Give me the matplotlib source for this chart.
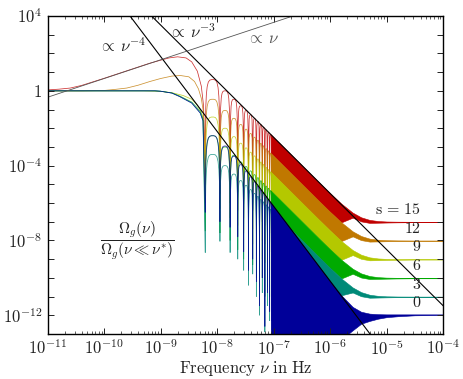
import numpy as np
import matplotlib
matplotlib.use("Agg")
import matplotlib.pyplot as plt
from matplotlib.path import Path
from matplotlib.patches import PathPatch
from matplotlib.ticker import FixedLocator, FuncFormatter, NullFormatter

plt.rcParams['mathtext.fontset'] = 'cm'
plt.rcParams['font.family'] = 'serif'
plt.rcParams['font.serif'] = ['DejaVu Serif']

# ---------------- data (log10 values) ----------------
labels = ['15', '12', '9', '6', '3', '0']
colors = ['#c00000', '#c07800', '#b4c800', '#00aa00', '#008a78', '#000099']

# smooth low-frequency part (log nu, log Omega) up to the first dip
low_x_15 = [-11.0, -10.8, -10.6, -10.4, -10.0, -9.6, -9.2, -9.0, -8.85, -8.7, -8.55, -8.45, -8.35, -8.28, -8.24]
low_y_15 = [0.05, 0.09, 0.15, 0.29, 0.67, 1.07, 1.47, 1.64, 1.76, 1.82, 1.76, 1.55, 1.05, 0.25, -0.8]
low_x_12 = [-11.0, -10.4, -10.0, -9.8, -9.6, -9.4, -9.19, -9.0, -8.8, -8.65, -8.5, -8.4, -8.33, -8.28, -8.24]
low_y_12 = [0.0, 0.0, 0.02, 0.08, 0.15, 0.3, 0.5, 0.66, 0.79, 0.82, 0.75, 0.5, 0.1, -0.4, -1.2]
low_x_9 = [-11.0, -9.3, -9.0, -8.8, -8.6, -8.45, -8.35, -8.28, -8.24]
low_y_9 = [0.0, 0.0, -0.03, -0.1, -0.25, -0.45, -0.75, -1.1, -1.6]
low_x_6 = [-11.0, -9.1, -9.0, -8.8, -8.66, -8.45, -8.3, -8.25]
low_y_6 = [0.0, 0.0, -0.02, -0.11, -0.28, -0.6, -1.08, -1.5]
low_x_3 = [-11.0, -9.1, -9.0, -8.8, -8.66, -8.45, -8.3, -8.25]
low_y_3 = [0.0, 0.0, -0.02, -0.12, -0.31, -0.65, -1.18, -1.6]
low_x_0 = [-11.0, -9.1, -9.0, -8.8, -8.66, -8.45, -8.3, -8.25]
low_y_0 = [0.0, 0.0, -0.02, -0.12, -0.31, -0.65, -1.18, -1.6]

# positions of the resolved dips (log nu), shared by all curves
dips = [-8.21, -7.95, -7.77, -7.635, -7.53, -7.445, -7.37, -7.305, -7.25, -7.20, -7.155, -7.11, -7.07, -7.035]

# depth reached by each dip (log Omega)
depth_15 = [-4.0, -4.5, -5.0, -5.4, -5.8, -6.1, -6.4, -6.6, -6.8, -7.0, -7.2, -7.4, -7.6, -7.8]
depth_12 = [-5.0, -5.5, -6.0, -6.4, -6.8, -7.1, -7.4, -7.6, -7.8, -8.0, -8.2, -8.4, -8.6, -8.8]
depth_9 = [-6.0, -6.3, -6.8, -7.2, -7.6, -8.0, -8.2, -8.5, -8.8, -9.0, -9.2, -9.4, -9.6, -9.8]
depth_6 = [-7.5, -7.6, -8.0, -8.5, -9.0, -9.5, -9.3, -10.0, -10.5, -10.0, -11.0, -10.5, -11.0, -11.5]
depth_3 = [-8.65, -8.05, -8.65, -9.0, -9.6, -10.4, -9.8, -11.0, -12.0, -10.8, -12.9, -11.5, -12.3, -12.8]
depth_0 = [-6.5, -7.0, -7.3, -7.8, -8.6, -9.6, -9.0, -10.2, -11.5, -10.0, -12.6, -10.8, -11.8, -12.3]

# heights of the arches between consecutive dips (log Omega)
peak_15 = [0.6, 0.0, -0.45, -0.80, -1.05, -1.28, -1.48, -1.64, -1.805, -1.94, -2.09, -2.21, -2.33]
peak_12 = [-0.45, -1.05, -1.47, -1.8, -2.05, -2.28, -2.48, -2.64, -2.805, -2.94, -3.09, -3.21, -3.33]
peak_9 = [-1.4, -2.0, -2.45, -2.8, -3.05, -3.28, -3.48, -3.64, -3.805, -3.94, -4.09, -4.21, -4.33]
peak_6 = [-2.4, -3.0, -3.45, -3.8, -4.05, -4.28, -4.48, -4.64, -4.805, -4.94, -5.09, -5.21, -5.33]
peak_3 = [-3.4, -4.0, -4.45, -4.8, -5.05, -5.28, -5.48, -5.64, -5.805, -5.94, -6.09, -6.21, -6.33]
peak_0 = [-2.4, -2.95, -3.5, -3.95, -4.28, -4.6, -4.86, -5.1, -5.3, -5.45, -5.65, -5.81, -5.97]

# densely oscillating part: upper / lower envelopes (log Omega)
band_x = [-7.05, -6.8, -6.5, -6.2, -6.0, -5.8, -5.6, -5.45, -5.3, -5.15, -5.0, -4.8, -4.5, -4.0]
upper_15 = [-2.33, -3.08, -3.98, -4.88, -5.47, -6.03, -6.51, -6.76, -6.90, -6.96, -6.985, -6.995, -7.0, -7.0]
upper_12 = [-3.33, -4.08, -4.98, -5.88, -6.47, -7.03, -7.51, -7.76, -7.90, -7.96, -7.985, -7.995, -8.0, -8.0]
upper_9 = [-4.33, -5.08, -5.98, -6.88, -7.47, -8.03, -8.51, -8.76, -8.90, -8.96, -8.985, -8.995, -9.0, -9.0]
upper_6 = [-5.33, -6.08, -6.98, -7.88, -8.47, -9.03, -9.51, -9.76, -9.90, -9.96, -9.985, -9.995, -10.0, -10.0]
upper_3 = [-6.33, -7.08, -7.98, -8.88, -9.47, -10.03, -10.51, -10.76, -10.90, -10.96, -10.985, -10.995, -11.0, -11.0]
upper_0 = [-5.97, -6.97, -8.17, -9.37, -10.17, -10.93, -11.55, -11.81, -11.91, -11.94, -11.95, -11.95, -11.95, -11.95]
lower_15 = [-3.33, -4.08, -4.98, -5.88, -6.47, -7.03, -6.78, -6.98, -7.06, -7.05, -7.04, -7.03, -7.02, -7.02]
lower_12 = [-4.33, -5.08, -5.98, -6.88, -7.47, -8.03, -7.78, -7.98, -8.06, -8.05, -8.04, -8.03, -8.02, -8.02]
lower_9 = [-5.33, -6.08, -6.98, -7.88, -8.47, -9.03, -8.78, -8.98, -9.06, -9.05, -9.04, -9.03, -9.02, -9.02]
lower_6 = [-6.33, -7.08, -7.98, -8.88, -9.47, -10.03, -9.78, -9.98, -10.06, -10.05, -10.04, -10.03, -10.02, -10.02]
lower_3 = [-5.97, -6.97, -8.17, -9.37, -10.17, -10.93, -10.78, -10.98, -11.06, -11.05, -11.04, -11.03, -11.02, -11.02]
lower_0 = [-14.0, -14.0, -14.0, -14.0, -14.0, -13.3, -12.8, -12.45, -12.3, -12.18, -12.1, -12.05, -12.0, -11.98]

# power-law guides: exponent and value at nu = 1e-8 Hz
guide_exp = [-4, -3, 1]
guide_norm = [6.8e-3, 3.3, 457.0]
guide_text = [r'$\propto\,\nu^{-4}$', r'$\propto\,\nu^{-3}$', r'$\propto\,\nu$']

series = [
    (low_x_15, low_y_15, depth_15, peak_15, upper_15, lower_15),
    (low_x_12, low_y_12, depth_12, peak_12, upper_12, lower_12),
    (low_x_9, low_y_9, depth_9, peak_9, upper_9, lower_9),
    (low_x_6, low_y_6, depth_6, peak_6, upper_6, lower_6),
    (low_x_3, low_y_3, depth_3, peak_3, upper_3, lower_3),
    (low_x_0, low_y_0, depth_0, peak_0, upper_0, lower_0),
]


def arch_path(lx, ly, dp, pk):
    """smooth part, then rounded arches between the dips"""
    verts = [(10.0**x, 10.0**y) for x, y in zip(lx, ly)]
    codes = [Path.MOVETO] + [Path.LINETO] * (len(lx) - 1)
    verts.append((10.0**dips[0], 10.0**dp[0]))
    codes.append(Path.LINETO)
    q = 0.2
    for i, p in enumerate(pk):
        a, b = dips[i], dips[i + 1]
        m = 0.5 * (a + b)
        P = 10.0**p
        verts += [(10.0**a, P), (10.0**(a + q * (m - a)), P), (10.0**m, P)]
        verts += [(10.0**(b - q * (b - m)), P), (10.0**b, P), (10.0**b, 10.0**dp[i + 1])]
        codes += [Path.CURVE4] * 6
    return Path(verts, codes)


fig = plt.figure(figsize=(4.64, 3.79), dpi=100)
ax = fig.add_axes([0.1028, 0.1187, 0.852, 0.839])
ax.set_xscale('log')
ax.set_yscale('log')

bx = 10.0**np.array(band_x)
for (lx, ly, dp, pk, up, lo), c in zip(series, colors):
    ax.fill_between(bx, 10.0**np.array(lo), 10.0**np.array(up), color=c, lw=0.4)
    ax.add_patch(PathPatch(arch_path(lx, ly, dp, pk), facecolor='none', edgecolor=c,
                           lw=0.55, alpha=0.8))

# guides
nu = np.array([1e-11, 1e-4])
for e, n, col, w in zip(guide_exp, guide_norm, ['k', 'k', '#555555'], [0.8, 0.8, 0.6]):
    ax.plot(nu, n * (nu / 1e-8)**e, color=col, lw=w)
ax.text(10**-9.68, 10**2.35, guide_text[0], fontsize=12, ha='center', va='center', color='#222222')
ax.text(10**-8.44, 10**3.12, guide_text[1], fontsize=12, ha='center', va='center', color='#222222')
ax.text(10**-7.18, 10**2.8, guide_text[2], fontsize=12, ha='center', va='center', color='#555555')

# s labels
flat = [-7.0, -8.0, -9.0, -10.0, -11.0, -11.95]
for s, f in zip(labels, flat):
    txt = r'$\mathrm{s}\,=\,15$' if s == '15' else r'$%s$' % s
    ax.text(10**-4.38, 10**(f + 0.2), txt, fontsize=11.5, ha='right', va='bottom', color='#222222')

ax.text(10**-9.42, 10**-8.0, r'$\dfrac{\Omega_g(\nu)}{\Omega_g(\nu\ll\nu^{*})}$',
        fontsize=11, ha='center', va='center', color='#222222')

ax.set_xlabel(r'$\mathrm{Frequency}\ \nu\ \mathrm{in\ Hz}$', fontsize=12, labelpad=0, color='#222222')


def yfmt(v, pos):
    k = int(round(np.log10(v)))
    if k % 4 != 0:
        return ''
    return r'$1$' if k == 0 else r'$10^{%d}$' % k


def xfmt(v, pos):
    k = int(round(np.log10(v)))
    return r'$10^{%d}$' % k


ax.yaxis.set_major_locator(FixedLocator([10.0**k for k in range(-13, 5)]))
ax.yaxis.set_major_formatter(FuncFormatter(yfmt))
ax.yaxis.set_minor_locator(FixedLocator([]))
ax.xaxis.set_major_locator(FixedLocator([10.0**k for k in range(-11, -3)]))
ax.xaxis.set_major_formatter(FuncFormatter(xfmt))
ax.xaxis.set_minor_locator(FixedLocator([m * 10.0**k for k in range(-11, -4) for m in range(2, 10)]))
ax.xaxis.set_minor_formatter(NullFormatter())
ax.tick_params(which='both', direction='in', top=True, right=True, labelsize=12, colors='#222222')
ax.tick_params(which='major', length=4.5, width=0.7, pad=4)
ax.tick_params(which='minor', length=2.5, width=0.5)
for sp in ax.spines.values():
    sp.set_linewidth(1.0)

ax.set_xlim(1e-11, 1e-4)
ax.set_ylim(1e-13, 1e4)

fig.savefig('out.png', dpi=100)
